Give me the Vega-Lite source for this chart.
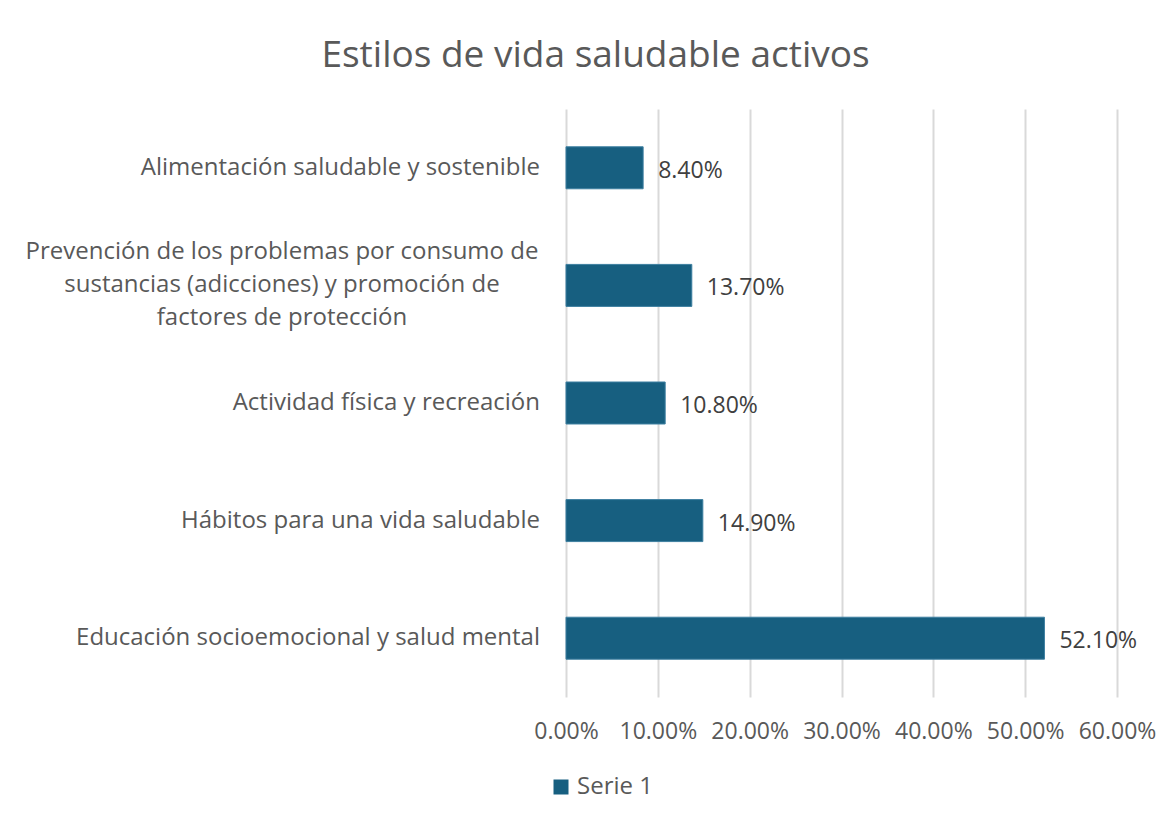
{
  "$schema": "https://vega.github.io/schema/vega-lite/v6.json",
  "autosize": "none",
  "width": 551,
  "height": 588,
  "padding": {"left": 566, "top": 109, "right": 56, "bottom": 126},
  "background": "white",
  "title": {
    "text": "Estilos de vida saludable activos",
    "fontSize": 37,
    "font": "Open Sans",
    "fontWeight": "normal",
    "color": "#595959",
    "anchor": "middle",
    "frame": "group",
    "dx": -246,
    "offset": 34
  },
  "data": {
    "values": [
      {"categoria": "Alimentación saludable y sostenible", "valor": 0.084},
      {"categoria": "Prevención de los problemas por consumo de|sustancias (adicciones) y promoción de|factores de protección", "valor": 0.137},
      {"categoria": "Actividad física y recreación", "valor": 0.108},
      {"categoria": "Hábitos para una vida saludable", "valor": 0.149},
      {"categoria": "Educación socioemocional y salud mental", "valor": 0.521}
    ]
  },
  "encoding": {
    "y": {
      "field": "categoria",
      "type": "nominal",
      "sort": null,
      "scale": {"paddingInner": 0.643, "paddingOuter": 0.3215},
      "axis": {
        "title": null,
        "ticks": false,
        "domain": false,
        "labels": false
      }
    }
  },
  "layer": [
    {
      "mark": {"type": "bar", "stroke": "#3d7fa0", "strokeWidth": 1},
      "encoding": {
        "x": {
          "field": "valor",
          "type": "quantitative",
          "scale": {"domain": [0, 0.6], "nice": false},
          "axis": {
            "title": null,
            "values": [0, 0.1, 0.2, 0.3, 0.4, 0.5, 0.6],
            "format": ".2%",
            "ticks": false,
            "domain": false,
            "grid": true,
            "gridColor": "#d9d9d9",
            "gridWidth": 2,
            "labelOverlap": false,
            "labelFlush": false,
            "labelFont": "Open Sans",
            "labelFontSize": 23,
            "labelColor": "#595959",
            "labelPadding": 23
          }
        },
        "color": {
          "datum": "Serie 1",
          "type": "nominal",
          "scale": {"range": ["#175f80"]},
          "legend": {
            "title": null,
            "orient": "none",
            "legendX": -17,
            "legendY": 666,
            "symbolType": "square",
            "symbolSize": 225,
            "symbolStrokeWidth": 0,
            "labelFont": "Open Sans",
            "labelFontSize": 24,
            "labelColor": "#595959",
            "labelOffset": 4
          }
        }
      }
    },
    {
      "mark": {
        "type": "text",
        "align": "left",
        "baseline": "middle",
        "dx": 15,
        "dy": 3,
        "font": "Open Sans",
        "fontSize": 23,
        "color": "#404040"
      },
      "encoding": {
        "x": {"field": "valor", "type": "quantitative"},
        "text": {"field": "valor", "type": "quantitative", "format": ".2%"}
      }
    },
    {
      "transform": [{"filter": "indexof(datum.categoria, '|') < 0"}],
      "mark": {
        "type": "text",
        "align": "right",
        "baseline": "middle",
        "dx": -26,
        "font": "Open Sans",
        "fontSize": 24,
        "color": "#595959"
      },
      "encoding": {
        "x": {"datum": 0, "type": "quantitative"},
        "text": {"field": "categoria", "type": "nominal"}
      }
    },
    {
      "transform": [{"filter": "indexof(datum.categoria, '|') >= 0"}],
      "mark": {
        "type": "text",
        "align": "center",
        "baseline": "middle",
        "dx": -284,
        "dy": -33,
        "lineBreak": "|",
        "lineHeight": 33,
        "font": "Open Sans",
        "fontSize": 24,
        "color": "#595959"
      },
      "encoding": {
        "x": {"datum": 0, "type": "quantitative"},
        "text": {"field": "categoria", "type": "nominal"}
      }
    }
  ],
  "config": {"view": {"stroke": null}}
}
